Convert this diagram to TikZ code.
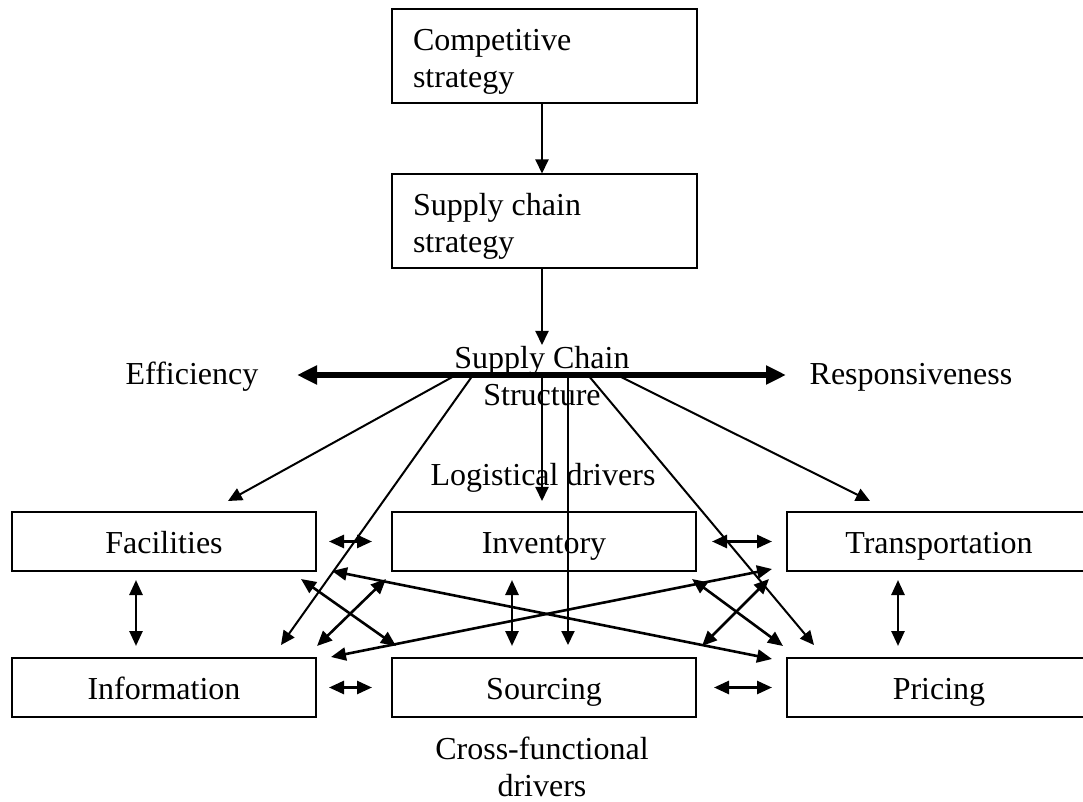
\documentclass[tikz,border=0pt]{standalone}
\usepackage{fontspec}
\setmainfont{Liberation Serif}
\usetikzlibrary{arrows.meta}

\tikzset{
  stratbox/.style={draw, line width=1pt, minimum width=152.5pt, minimum height=47pt,
    text width=131.5pt, inner xsep=10.5pt, inner ysep=0pt, align=flush left},
  driver/.style={draw, line width=1pt, minimum width=152pt, minimum height=29.5pt, inner sep=0pt,
    text height=14pt, text depth=2pt},
  plain/.style={inner sep=0pt, align=center},
  link/.style={line width=1pt, -{Triangle[length=7pt,width=6.5pt]}},
  both/.style={line width=1.3pt, {Triangle[length=7.5pt,width=6.5pt]}-{Triangle[length=7.5pt,width=6.5pt]}},
  thickbar/.style={line width=3pt, {Triangle[length=10pt,width=9pt]}-{Triangle[length=10pt,width=9pt]}},
}

\begin{document}
\begin{tikzpicture}[x=0.5pt, y=-0.5pt, font=\fontsize{16pt}{18.5pt}\selectfont]
            \useasboundingbox (0,0) rectangle (1083,802);
            \clip (0,0) rectangle (1083,802);

            % strategy boxes
            \node[stratbox] (compstrat) at (544.5,56) {\rule{0pt}{16pt}Competitive\\strategy};
            \node[stratbox] (scstrat) at (544.5,221.5) {\rule{0pt}{16pt}Supply chain\\strategy};
            \coordinate (sctip) at (542,345);
            \draw[link] ([xshift=-1.25pt]compstrat.south) -- ([xshift=-1.25pt]scstrat.north);
            \draw[link] ([xshift=-1.25pt]scstrat.south) -- (sctip);

            % structure bar
            \node[plain] (scstruct) at (542,376) {Supply Chain\\Structure};
            \node[plain] (efficiency) at (192,377) {Efficiency};
            \node[plain] (responsive) at (911,377) {Responsiveness};
            \coordinate (barL) at (297,375);
            \coordinate (barR) at (786,375);
            \draw[thickbar] (barL) -- (barR);

            % drivers
            \node[plain] (logdrivers) at (543,478) {Logistical drivers};
            \node[driver] (facilities) at (164,541.5) {Facilities};
            \node[driver] (inventory) at (544,541.5) {Inventory};
            \node[driver] (transport) at (939,541.5) {Transportation};
            \node[driver] (information) at (164,687.5) {Information};
            \node[driver] (sourcing) at (544,687.5) {Sourcing};
            \node[driver] (pricing) at (939,687.5) {Pricing};
            \node[plain] (crossdrivers) at (542,767) {Cross-functional\\drivers};

            % from the bar down to the drivers
            \coordinate (b1) at (456,375);
            \coordinate (b2) at (473,375);
            \coordinate (b3) at (542,375);
            \coordinate (b4) at (568,375);
            \coordinate (b5) at (588,375);
            \coordinate (b6) at (617,375);
            \draw[link] (b1) -- ([shift={(32pt,5pt)}]facilities.north);
            \draw[link] (b2) -- ([shift={(-18pt,6pt)}]information.north east);
            \draw[link] (b3) -- ([shift={(-1pt,5pt)}]inventory.north);
            \draw[link] (b4) -- ([shift={(12pt,6pt)}]sourcing.north);
            \draw[link] (b5) -- ([shift={(14pt,6pt)}]pricing.north west);
            \draw[link] (b6) -- ([shift={(-34.5pt,5pt)}]transport.north);

            % side by side
            \draw[both, shorten <=6pt, shorten >=9.5pt] (facilities.east) -- (inventory.west);
            \draw[both, shorten <=7.5pt, shorten >=7pt] (inventory.east) -- (transport.west);
            \draw[both, shorten <=6pt, shorten >=9.5pt] (information.east) -- (sourcing.west);
            \draw[both, shorten <=8.5pt, shorten >=7pt] (sourcing.east) -- (pricing.west);

            % up and down
            \draw[both] ([shift={(-14pt,-4pt)}]facilities.south) -- ([shift={(-14pt,5.5pt)}]information.north);
            \draw[both] ([shift={(-16pt,-4pt)}]inventory.south) -- ([shift={(-16pt,5.5pt)}]sourcing.north);
            \draw[both] ([shift={(-20.5pt,-4pt)}]transport.south) -- ([shift={(-20.5pt,5.5pt)}]pricing.north);

            % across
            \draw[both] ([shift={(7.5pt,0.5pt)}]facilities.south east) -- ([shift={(-7pt,-1pt)}]pricing.north west);
            \draw[both] ([shift={(-7pt,1.5pt)}]transport.south west) -- ([shift={(7pt,0pt)}]information.north east);
            \draw[both] ([shift={(-8pt,-3.5pt)}]facilities.south east) -- ([shift={(2.5pt,5.5pt)}]sourcing.north west);
            \draw[both] ([shift={(-2.5pt,-3.5pt)}]inventory.south west) -- ([shift={(0pt,5.5pt)}]information.north east);
            \draw[both] ([shift={(-2.5pt,-3.5pt)}]inventory.south east) -- ([shift={(-1.5pt,5.5pt)}]pricing.north west);
            \draw[both] ([shift={(-8.5pt,-3.5pt)}]transport.south west) -- ([shift={(2.5pt,5.5pt)}]sourcing.north east);
        \end{tikzpicture}
\end{document}
